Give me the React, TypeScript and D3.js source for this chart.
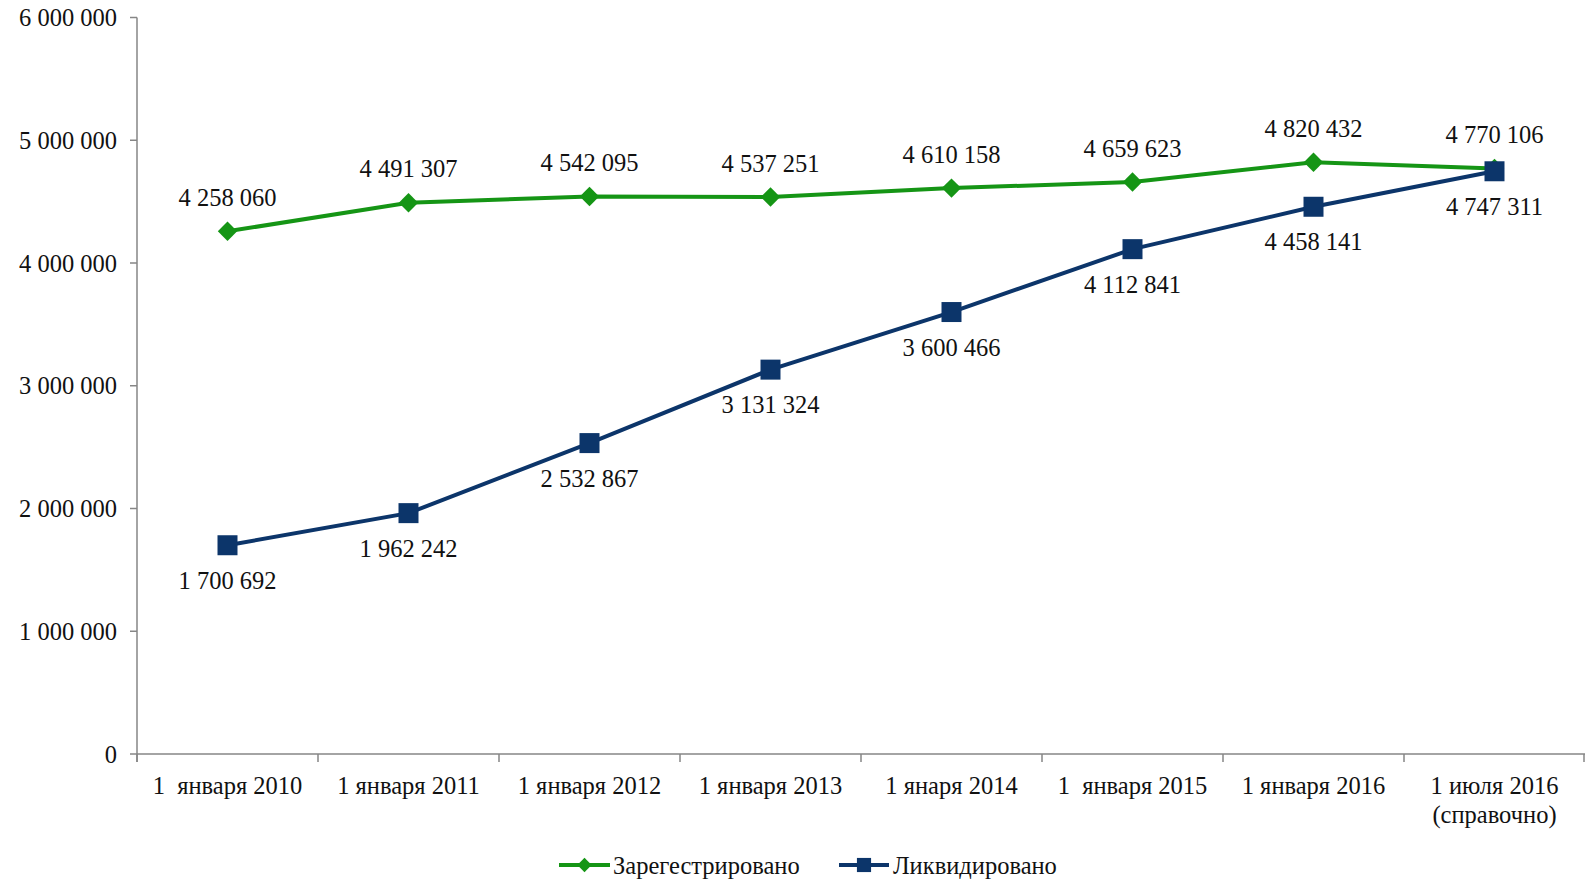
import React from "react";
import * as d3 from "d3";

const categories: string[][] = [
  ["1  января 2010"],
  ["1 января 2011"],
  ["1 января 2012"],
  ["1 января 2013"],
  ["1 янаря 2014"],
  ["1  января 2015"],
  ["1 января 2016"],
  ["1 июля 2016", "(справочно)"],
];
const registered: number[] = [4258060, 4491307, 4542095, 4537251, 4610158, 4659623, 4820432, 4770106];
const liquidated: number[] = [1700692, 1962242, 2532867, 3131324, 3600466, 4112841, 4458141, 4747311];
const yTicks: number[] = [0, 1000000, 2000000, 3000000, 4000000, 5000000, 6000000];
const seriesNames = ["Зарегестрировано", "Ликвидировано"];

const W = 1585;
const H = 879;
const FONT = "'Liberation Serif', 'Times New Roman', serif";
const GREEN = "#159515";
const BLUE = "#0c356a";
const AXIS = "#868686";

const fmt = (v: number) => d3.format(",")(v).replace(/,/g, "\u00a0");

export default function App() {
  const x = d3.scaleBand<number>().domain(d3.range(categories.length)).range([137, 1585]).padding(0);
  const y = d3.scaleLinear().domain([0, 6000000]).range([754, 17.5]);
  const cx = (i: number) => (x(i) as number) + x.bandwidth() / 2;
  const line = d3.line<number>().x((_, i) => cx(i)).y((d) => y(d));
  const diamond = d3.symbol().type(d3.symbolDiamond2).size(240)();
  const square = d3.symbol().type(d3.symbolSquare).size(400)();
  const fs = 24.5;

  return (
    <svg width={W} height={H} style={{ position: "absolute", left: 0, top: 0, background: "#fff" }} fontFamily={FONT}>
      {/* y axis */}
      <line x1={137} x2={137} y1={y(6000000)} y2={762} stroke={AXIS} strokeWidth={1.5} />
      {yTicks.map((t) => (
        <g key={t}>
          <line x1={130} x2={137} y1={y(t)} y2={y(t)} stroke={AXIS} strokeWidth={1.5} />
          <text x={117} y={y(t)} dy="0.35em" textAnchor="end" fontSize={fs} fill="#111">
            {fmt(t)}
          </text>
        </g>
      ))}
      {/* x axis */}
      <line x1={137} x2={1585} y1={754} y2={754} stroke={AXIS} strokeWidth={1.5} />
      {d3.range(categories.length + 1).map((i) => {
        const xx = i < categories.length ? (x(i) as number) : 1584;
        return <line key={i} x1={xx} x2={xx} y1={754} y2={762} stroke={AXIS} strokeWidth={1.5} />;
      })}
      {categories.map((c, i) => (
        <text key={i} x={cx(i)} y={785} textAnchor="middle" fontSize={fs} fill="#111" style={{ whiteSpace: "pre" }}>
          {c.map((s, k) => (
            <tspan key={k} x={cx(i)} dy={k === 0 ? "0.35em" : 29}>
              {s}
            </tspan>
          ))}
        </text>
      ))}
      {/* series */}
      <path d={line(registered) || ""} fill="none" stroke={GREEN} strokeWidth={4} />
      <path d={line(liquidated) || ""} fill="none" stroke={BLUE} strokeWidth={4} />
      {registered.map((v, i) => (
        <path key={"g" + i} d={diamond || ""} transform={`translate(${cx(i)},${y(v)})`} fill={GREEN} />
      ))}
      {liquidated.map((v, i) => (
        <path key={"b" + i} d={square || ""} transform={`translate(${cx(i)},${y(v)})`} fill={BLUE} />
      ))}
      {registered.map((v, i) => (
        <text key={"gl" + i} x={cx(i)} y={y(v) - 34} dy="0.35em" textAnchor="middle" fontSize={fs} fill="#111">
          {fmt(v)}
        </text>
      ))}
      {liquidated.map((v, i) => (
        <text key={"bl" + i} x={cx(i)} y={y(v) + 35} dy="0.35em" textAnchor="middle" fontSize={fs} fill="#111">
          {fmt(v)}
        </text>
      ))}
      {/* legend */}
      <g>
        <line x1={559} x2={610} y1={865} y2={865} stroke={GREEN} strokeWidth={4} />
        <path d={d3.symbol().type(d3.symbolDiamond2).size(130)() || ""} transform="translate(584.5,865)" fill={GREEN} />
        <text x={613} y={865} dy="0.35em" fontSize={fs} fill="#111">{seriesNames[0]}</text>
        <line x1={839} x2={889} y1={865} y2={865} stroke={BLUE} strokeWidth={4} />
        <path d={d3.symbol().type(d3.symbolSquare).size(200)() || ""} transform="translate(864,865)" fill={BLUE} />
        <text x={893} y={865} dy="0.35em" fontSize={fs} fill="#111">{seriesNames[1]}</text>
      </g>
    </svg>
  );
}
